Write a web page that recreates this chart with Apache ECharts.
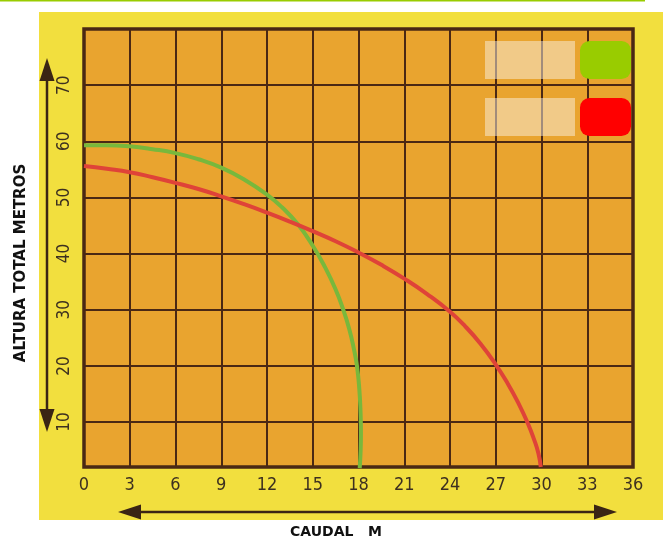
<!DOCTYPE html>
<html>
<head>
<meta charset="utf-8">
<script src="https://cdn.jsdelivr.net/npm/echarts@6/dist/echarts.min.js"></script>
<style>
html,body{margin:0;padding:0;background:#fff;}
#chart{width:668px;height:544px;}
</style>
</head>
<body>
<div id="chart"></div>
<script>
// ---- data ----
const xTicks = [0, 3, 6, 9, 12, 15, 18, 21, 24, 27, 30, 33, 36];
const yTicks = [10, 20, 30, 40, 50, 60, 70];
const greenName = 'Bomba 1';
const redName = 'Bomba 2';
const greenX = [0, 1.5, 3, 4.5, 6, 7.5, 9, 10.5, 12, 13, 14, 15, 15.8, 16.5, 17, 17.4, 17.7, 17.9, 18.05, 18.13, 18.16, 18.14, 18.08];
const greenY = [59.3, 59.3, 59.1, 58.6, 57.9, 56.8, 55.3, 53.2, 50.5, 48.2, 45.3, 41.4, 37.6, 33.6, 30, 26.5, 23, 20, 16, 12, 8, 5, 1.8];
const redX = [0, 1.5, 3, 4.5, 6, 7.5, 9, 10.5, 12, 13.5, 15, 16.5, 18, 19.5, 21, 22.5, 24, 25, 26, 27, 27.8, 28.5, 29.1, 29.5, 29.8, 29.95];
const redY = [55.6, 55.1, 54.5, 53.6, 52.6, 51.5, 50.2, 48.8, 47.3, 45.7, 44, 42.2, 40.2, 38.0, 35.55, 32.8, 29.65, 27.05, 23.95, 20.25, 16.8, 13.3, 9.8, 7.0, 4.4, 2.0];
const xTitle = 'CAUDAL   M';
const yTitle = 'ALTURA TOTAL METROS';

const toPairs = (xs, ys) => xs.map((x, i) => [x, ys[i]]);

const dark = '#4a2814';
const labelFont = "'Liberation Sans Narrow','Arial Narrow','DejaVu Sans Condensed','Liberation Sans',sans-serif";
const titleFont = "'DejaVu Sans',Verdana,sans-serif";

const chart = echarts.init(document.getElementById('chart'), null, {renderer: 'canvas'});

const arrowColor = '#3a2414';
chart.setOption({
  backgroundColor: '#ffffff',
  animation: false,
  grid: {
    left: 84, right: 35, top: 29, bottom: 71,
    show: true,
    backgroundColor: '#e9a42f',
    borderColor: dark,
    borderWidth: 3.5
  },
  legend: {
    orient: 'vertical',
    right: 37,
    top: 41,
    padding: 0,
    align: 'right',
    itemWidth: 51,
    itemHeight: 38,
    itemGap: 19,
    icon: 'roundRect',
    selectedMode: false,
    data: [
      {name: greenName, itemStyle: {color: '#99cc00'}},
      {name: redName, itemStyle: {color: '#ff0000'}}
    ],
    formatter: () => '{b| }',
    textStyle: {
      rich: {
        b: {width: 90, height: 38, backgroundColor: 'rgba(250,240,225,0.5)'}
      }
    }
  },
  xAxis: {
    type: 'value',
    min: 0, max: 36, interval: 3,
    axisLine: {show: false},
    axisTick: {show: false},
    axisLabel: {
      margin: 9,
      fontSize: 18,
      fontFamily: labelFont,
      color: '#3d3020',
      customValues: xTicks
    },
    splitLine: {show: true, lineStyle: {color: dark, width: 2}},
    name: xTitle,
    nameLocation: 'middle',
    nameGap: 58,
    nameTextStyle: {
      fontSize: 14, fontWeight: 'bold', fontFamily: titleFont, color: '#111',
      padding: [0, 45, 0, 0]
    }
  },
  yAxis: {
    type: 'value',
    min: 2, max: 80, splitNumber: 8,
    axisLine: {show: false},
    axisTick: {show: false, customValues: yTicks},
    axisLabel: {
      rotate: 90,
      margin: 11,
      fontSize: 17,
      fontFamily: labelFont,
      color: '#3d3020',
      customValues: yTicks
    },
    splitLine: {show: true, lineStyle: {color: dark, width: 2}},
    name: yTitle,
    nameLocation: 'middle',
    nameRotate: 90,
    nameGap: 55,
    nameTextStyle: {
      fontSize: 15, fontWeight: 'bold', fontFamily: titleFont, color: '#111',
      padding: [0, 30, 0, 0]
    }
  },
  series: [
    {
      name: greenName, type: 'line', smooth: 0.5, symbol: 'none',
      data: toPairs(greenX, greenY),
      lineStyle: {color: '#78b83c', width: 4},
      itemStyle: {color: '#78b83c'},
      z: 3
    },
    {
      name: redName, type: 'line', smooth: 0.5, symbol: 'none',
      data: toPairs(redX, redY),
      lineStyle: {color: '#df4338', width: 4},
      itemStyle: {color: '#df4338'},
      z: 3
    }
  ],
  graphic: [
    {type: 'rect', silent: true, z: -20, shape: {x: 0, y: 0, width: 645, height: 1.6}, style: {fill: '#99cc00'}},
    {type: 'rect', silent: true, z: -20, shape: {x: 39, y: 12, width: 624, height: 508}, style: {fill: '#f2df3e'}},
    {type: 'line', silent: true, z: 5, shape: {x1: 47, y1: 72, x2: 47, y2: 418}, style: {stroke: arrowColor, lineWidth: 2.5}},
    {type: 'polygon', silent: true, z: 5, shape: {points: [[47, 58], [39.5, 81], [54.5, 81]]}, style: {fill: arrowColor}},
    {type: 'polygon', silent: true, z: 5, shape: {points: [[47, 432], [39.5, 409], [54.5, 409]]}, style: {fill: arrowColor}},
    {type: 'line', silent: true, z: 5, shape: {x1: 130, y1: 512, x2: 605, y2: 512}, style: {stroke: arrowColor, lineWidth: 2.5}},
    {type: 'polygon', silent: true, z: 5, shape: {points: [[118, 512], [141, 504.5], [141, 519.5]]}, style: {fill: arrowColor}},
    {type: 'polygon', silent: true, z: 5, shape: {points: [[617, 512], [594, 504.5], [594, 519.5]]}, style: {fill: arrowColor}}
  ]
});
</script>
</body>
</html>
